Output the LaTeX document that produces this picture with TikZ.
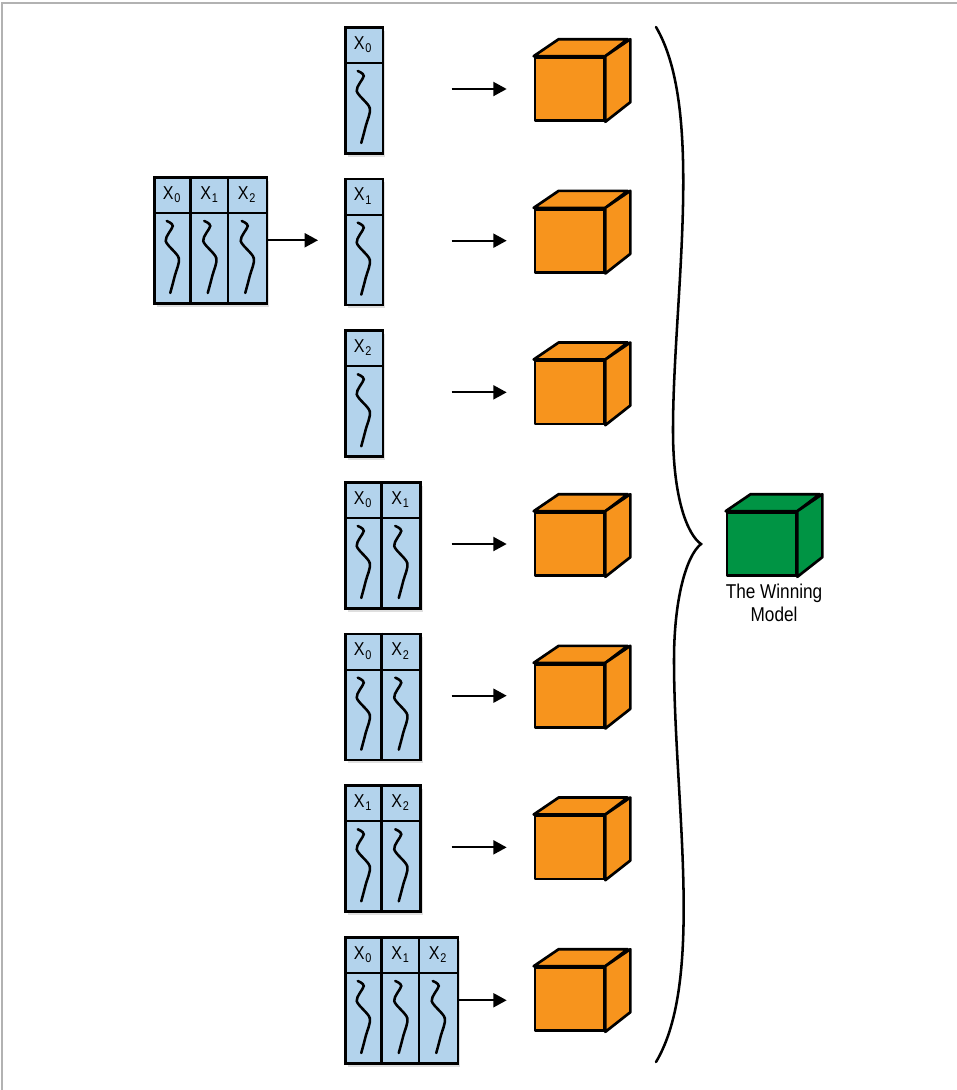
\documentclass[tikz,border=0pt]{standalone}
\usepackage{fontspec}
\newfontfamily\labelfont[FakeStretch=0.86]{Liberation Sans}
\usepackage{tikz}
\usetikzlibrary{arrows.meta, positioning, shadows}
\definecolor{featblue}{HTML}{B3D3EC}
\definecolor{modelorange}{HTML}{F7941D}
\definecolor{winner}{HTML}{009444}

% feature table: name, top-left corner, number of columns, subscripts
\newcommand{\feattable}[4]{%
  \node[tbl, minimum width=#3*28.125pt] (#1) at #2 {};
  \draw[rule] ([yshift=-27.75pt]#1.north west) -- ([yshift=-27.75pt]#1.north east);
  \foreach \s [count=\k from 0] in {#4} {
    \coordinate (#1-\k) at ([xshift=\k*28.125pt+14.0625pt]#1.north west);
    \node[hdr] (#1-h\k) at ([yshift=-13.9pt]#1-\k)
      {X\kern0.6pt\raisebox{-2.6pt}{\fontsize{9.5}{9.5}\selectfont\s}};
    \draw[squig, shift={(#1-\k)}] plot[smooth] coordinates
      {(-5,45) (1,50) (-6,65) (7,82) (3,100) (-1.5,117)};
    \ifnum\k>0 \draw[rule] ([xshift=-14.0625pt]#1-\k) -- ++(0,126); \fi
  }
}

% model cube: name, centre of front face, colour
\newcommand{\modelcube}[3]{%
  \node[face, fill=#3] (#1) at #2 {};
  \draw[edge, fill=#3] (#1.north west) -- ++(25,-17) -- ++(69,0) -- (#1.north east) -- cycle;
  \draw[edge, fill=#3] (#1.north east) -- ++(25,-17) -- ++(0,63) -- (#1.south east) -- cycle;
}

\begin{document}
\begin{tikzpicture}[x=0.75pt, y=-0.75pt,
  tbl/.style={draw, line width=1.9pt, fill=featblue, minimum height=94.5pt,
    inner sep=0pt, anchor=north west,
    drop shadow={shadow xshift=2pt, shadow yshift=-2.5pt, opacity=0.25}},
  rule/.style={line width=1.6pt},
  squig/.style={line width=1.9pt, line cap=round},
  hdr/.style={font=\labelfont\fontsize{14}{14}\selectfont, inner sep=0pt},
  face/.style={draw, line width=2pt, line join=round,
    minimum width=51.75pt, minimum height=47.25pt, inner sep=0pt},
  edge/.style={draw, line width=2pt, line join=round},
  arr/.style={-{Triangle[length=10pt, width=10.5pt]}, line width=1.5pt, shorten >=20.25pt},
  lbl/.style={font=\labelfont\fontsize{15}{17.5}\selectfont, align=center, inner sep=0pt}
]
  \useasboundingbox (0,0) rectangle (957,1090);
  \fill[white] (0,0) rectangle (957,1090);
  \draw[gray!60, line width=0.8pt] (2,1090) -- (2,3) -- (957,3);

  % full data set
  \feattable{big}{(153,176)}{3}{0,1,2}

  % feature subsets
  \feattable{t1}{(344,26)}{1}{0}
  \feattable{t2}{(344,177.7)}{1}{1}
  \feattable{t3}{(344,329.3)}{1}{2}
  \feattable{t4}{(344,481)}{2}{0,1}
  \feattable{t5}{(344,632.7)}{2}{0,2}
  \feattable{t6}{(344,784.3)}{2}{1,2}
  \feattable{t7}{(344,936)}{3}{0,1,2}

  \draw[arr, shorten >=19.5pt] (big.east) -- (big.east -| t2.west);

  % one model per subset
  \foreach \i in {1,...,7} {
    \modelcube{c\i}{(569.5,{89+151.67*(\i-1)})}{modelorange}
  }
  \foreach \i in {1,...,6} {
    \coordinate (s\i) at ([xshift=-61.5pt]c\i.west);
    \draw[arr] (s\i) -- (c\i.west);
  }
  \draw[arr] (t7.east) -- (t7.east -| c7.west);

  % brace
  \draw[line width=1.9pt, line cap=round]
    (656,27) .. controls (705,110) and (673,300) .. (673,430)
    .. controls (673,500) and (688,535) .. (701,544)
    .. controls (686,556) and (674,600) .. (674,660)
    .. controls (674,800) and (705,980) .. (656,1062);

  \modelcube{win}{(761.5,544)}{winner}
  \node[lbl, below=5pt of win, xshift=9.4pt] (winlbl) {The Winning\\Model};
\end{tikzpicture}
\end{document}
